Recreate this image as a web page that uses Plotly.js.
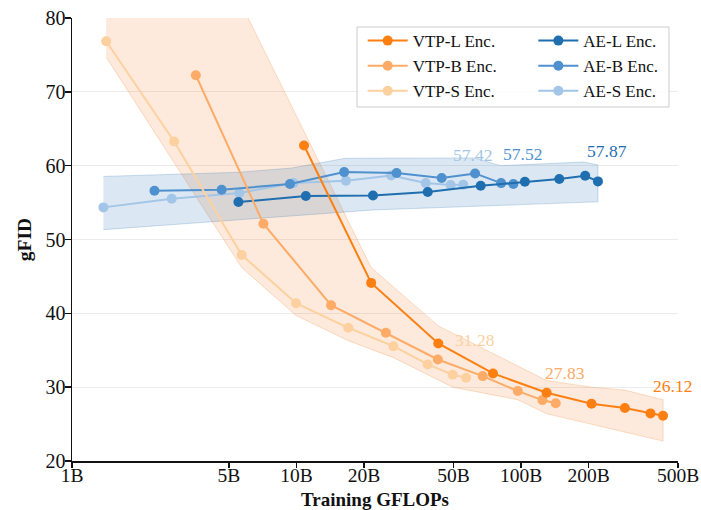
<!DOCTYPE html>
<html>
<head>
<meta charset="utf-8">
<script src="https://cdn.plot.ly/plotly-3.0.1.min.js"></script>
<style>html,body{margin:0;padding:0;background:#fff;}#chart{width:701px;height:510px;}</style>
</head>
<body>
<div id="chart"></div>
<script>
// ---- data (x in billions of training FLOPs, y = gFID) ----
const seriesNames = ["VTP-L Enc.", "VTP-B Enc.", "VTP-S Enc.", "AE-L Enc.", "AE-B Enc.", "AE-S Enc."];

const vtpL_x = [10.8, 21.5, 42.8, 75, 130, 206, 290, 377, 429];
const vtpL_y = [62.73, 44.12, 35.92, 31.86, 29.25, 27.76, 27.17, 26.45, 26.12];

const vtpB_x = [3.56, 7.12, 14.25, 25.0, 42.6, 67.5, 96.7, 124.5, 142.7];
const vtpB_y = [72.25, 52.14, 41.10, 37.36, 33.75, 31.50, 29.47, 28.25, 27.83];

const vtpS_x = [1.42, 2.85, 5.70, 9.95, 17.0, 27.0, 38.4, 49.6, 56.9];
const vtpS_y = [76.85, 63.27, 47.90, 41.37, 38.04, 35.55, 33.08, 31.68, 31.28];

const aeL_x = [5.51, 11.0, 21.9, 38.4, 66.1, 104, 148, 193, 220];
const aeL_y = [55.07, 55.89, 55.97, 56.43, 57.28, 57.82, 58.19, 58.63, 57.87];

const aeB_x = [2.33, 4.64, 9.35, 16.3, 27.9, 44.3, 62.4, 81.5, 92.4];
const aeB_y = [56.61, 56.74, 57.51, 59.13, 59.00, 58.32, 58.95, 57.64, 57.52];

const aeS_x = [1.38, 2.78, 5.56, 9.68, 16.6, 26.4, 37.6, 48.6, 55.3];
const aeS_y = [54.35, 55.52, 56.30, 57.64, 57.96, 58.68, 57.64, 57.38, 57.42];

// shaded spread bands
const vtpBandUpper_x = [1.42, 21.5, 42.8, 75, 130, 206, 290, 429];
const vtpBandUpper_y = [119, 46.2, 38.3, 34.6, 30.9, 30.0, 29.6, 28.3];
const vtpBandLower_x = [1.42, 5.70, 9.95, 17.0, 27.0, 49.6, 96.7, 130, 429];
const vtpBandLower_y = [74.7, 46.2, 39.7, 36.3, 34.0, 30.0, 28.3, 26.4, 22.7];

const aeBandUpper_x = [1.38, 5.5, 9.5, 16.5, 62, 81, 190, 220];
const aeBandUpper_y = [58.54, 59.1, 59.68, 61.0, 61.05, 60.0, 60.5, 60.1];
const aeBandLower_x = [1.38, 21.9, 220];
const aeBandLower_y = [51.33, 54.0, 55.1];

const xTickVals = [1, 5, 10, 20, 50, 100, 200, 500];
const xTickText = ["1B", "5B", "10B", "20B", "50B", "100B", "200B", "500B"];
const yTickVals = [20, 30, 40, 50, 60, 70, 80];

// ---- styling ----
const colors = ["#fd7f12", "#fdab66", "#fdd19f", "#1f6fb0", "#4f90cf", "#a3c6e8"];
const FONT = "Liberation Serif, Times New Roman, serif";

const seriesX = [vtpL_x, vtpB_x, vtpS_x, aeL_x, aeB_x, aeS_x];
const seriesY = [vtpL_y, vtpB_y, vtpS_y, aeL_y, aeB_y, aeS_y];
const labelYShift = [30, 30, 38, 30, 30, 30];

function band(ux, uy, lx, ly, fill, edge) {
  return {
    x: ux.concat(lx.slice().reverse()),
    y: uy.concat(ly.slice().reverse()),
    mode: "lines", fill: "toself", fillcolor: fill,
    line: {color: edge, width: 1},
    showlegend: false, hoverinfo: "skip"
  };
}

const traces = [
  band(vtpBandUpper_x, vtpBandUpper_y, vtpBandLower_x, vtpBandLower_y, "rgba(245,130,45,0.17)", "rgba(245,130,45,0.25)"),
  band(aeBandUpper_x, aeBandUpper_y, aeBandLower_x, aeBandLower_y, "rgba(40,110,175,0.17)", "rgba(40,110,175,0.22)")
];

const drawOrder = [5, 4, 3, 2, 1, 0];
drawOrder.forEach(i => {
  traces.push({
    x: seriesX[i], y: seriesY[i], name: seriesNames[i],
    mode: "lines+markers",
    line: {color: colors[i], width: 2},
    marker: {color: colors[i], size: 10},
    legend: i < 3 ? "legend" : "legend2",
    legendrank: i
  });
});

const annotations = seriesY.map((ys, i) => ({
  x: Math.log10(seriesX[i][seriesX[i].length - 1]),
  y: ys[ys.length - 1],
  xref: "x", yref: "y",
  text: ys[ys.length - 1].toFixed(2),
  showarrow: false,
  xshift: 9, yshift: labelYShift[i],
  font: {family: FONT, size: 17.5, color: colors[i]}
}));

const legendCommon = {
  bgcolor: "rgba(0,0,0,0)", borderwidth: 0,
  font: {family: FONT, size: 17, color: "#111"},
  xanchor: "left", yanchor: "top", tracegroupgap: 0, itemwidth: 40
};

const layout = {
  width: 701, height: 510,
  margin: {l: 72, r: 23, t: 18, b: 49},
  paper_bgcolor: "#fff", plot_bgcolor: "#fff",
  font: {family: FONT, size: 19, color: "#111"},
  xaxis: {
    type: "log", range: [0, Math.log10(500)],
    tickvals: xTickVals, ticktext: xTickText,
    showgrid: false, zeroline: false,
    showline: true, linecolor: "#111", linewidth: 1.5,
    ticks: "outside", ticklen: 5, tickwidth: 1.5, tickcolor: "#111",
    ticklabelstandoff: -9,
    tickfont: {family: FONT, size: 19.5, color: "#111"},
    title: {text: "Training GFLOPs", font: {family: FONT, size: 19, weight: "bold", color: "#111"}, standoff: 9}
  },
  yaxis: {
    range: [20, 80], tickvals: yTickVals,
    showgrid: true, gridcolor: "#ebebeb", gridwidth: 1,
    zeroline: false,
    showline: true, linecolor: "#111", linewidth: 1.5,
    ticks: "outside", ticklen: 6, tickwidth: 1.5, tickcolor: "#111",
    ticklabelstandoff: -5,
    tickfont: {family: FONT, size: 20, color: "#111"},
    title: {text: "gFID", font: {family: FONT, size: 19.5, weight: "bold", color: "#111"}, standoff: 8}
  },
  legend: Object.assign({x: 0.4797, y: 0.9886}, legendCommon),
  legend2: Object.assign({x: 0.7613, y: 0.9886}, legendCommon),
  shapes: [{
    type: "rect", xref: "paper", yref: "paper",
    x0: 0.4703, x1: 0.9851, y0: 0.7991, y1: 0.9797,
    line: {color: "#cccccc", width: 1},
    fillcolor: "rgba(255,255,255,0.85)", layer: "above"
  }],
  annotations: annotations,
  showlegend: true
};

Plotly.newPlot("chart", traces, layout, {displayModeBar: false, staticPlot: true});
</script>
</body>
</html>
